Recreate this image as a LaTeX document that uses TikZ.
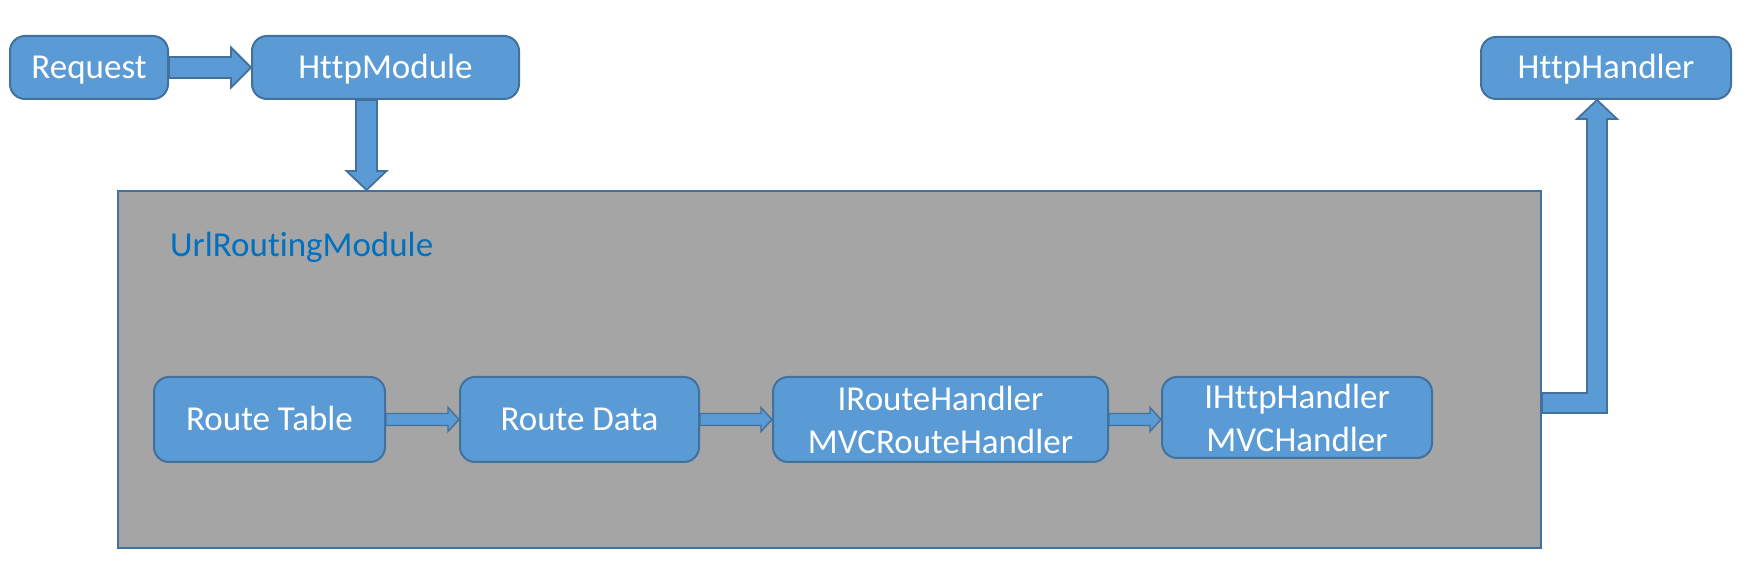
\documentclass[tikz,border=0pt]{standalone}
\usepackage{fontspec}
\setmainfont{Carlito}[Ligatures={NoCommon,NoRare,NoContextual}]
\usetikzlibrary{calc}
\definecolor{bluef}{HTML}{5B9BD5}
\definecolor{bord}{HTML}{41719C}
\definecolor{grayf}{HTML}{A5A5A5}
\definecolor{urlblue}{HTML}{0070C0}
\newcommand\bigfnt{\fontsize{35pt}{43pt}\selectfont}
\tikzset{
  bluebox/.style={draw=bord, fill=bluef, line width=2pt, rounded corners=15pt,
    text=white, font=\bigfnt, inner sep=0pt, align=center},
  onel/.style={text height=30pt, text depth=8pt},
  barrow/.style={draw=bord, fill=bluef, line width=1.8pt, line join=miter},
  sarrow/.style={draw=bord, fill=bluef, line width=1.4pt, line join=miter},
  graybox/.style={draw=bord, fill=grayf, line width=2pt, inner sep=0pt},
}
\begin{document}
\begin{tikzpicture}[x=1pt,y=1pt]
\useasboundingbox (0,0) rectangle (1747,585);
% top nodes
\node[bluebox,onel,minimum width=158pt,minimum height=63pt] (req) at (89,517.5) {Request};
\node[bluebox,onel,minimum width=267pt,minimum height=63pt] (hm) at (385.5,517.5) {Ht\kern0pt tpModule};
\node[bluebox,onel,minimum width=250pt,minimum height=62pt] (hh) at (1606,517) {Ht\kern0pt tpHandler};
% container
\node[graybox,minimum width=1423pt,minimum height=357pt] (gray) at (829.5,215.5) {};
\node[anchor=base west,inner sep=0pt,text=urlblue,font=\bigfnt] (url) at (170,328) {UrlRout\kern0pt ingModule};
% inner nodes
\node[bluebox,onel,minimum width=231pt,minimum height=85pt] (rt) at (269.5,165.5) {Route Table};
\node[bluebox,onel,minimum width=239pt,minimum height=85pt] (rd) at (579.5,165.5) {Route Data};
\node[bluebox,minimum width=335pt,minimum height=85pt] (ir) at (940.5,165.5) {IRouteHandler\\MVCRouteHandler};
\node[bluebox,minimum width=270pt,minimum height=81pt] (ih) at (1297,167.5) {IHt\kern0pt tpHandler\\MVCHandler};
% arrow Request -> HttpModule
\draw[barrow] let \p1=(req.east), \p2=(hm.west) in
  (\x1,\y1+10.5) -- (\x2-20,\y1+10.5) -- (\x2-20,\y1+20) -- (\x2,\y1)
  -- (\x2-20,\y1-20) -- (\x2-20,\y1-10.5) -- (\x1,\y1-10.5) -- cycle;
% arrow HttpModule -> container
\draw[barrow] let \p1=($(hm.south)+(-19,0)$), \p2=(gray.north) in
  (\x1-10.5,\y1) -- (\x1-10.5,\y2+19) -- (\x1-20,\y2+19) -- (\x1,\y2)
  -- (\x1+20,\y2+19) -- (\x1+10.5,\y2+19) -- (\x1+10.5,\y1) -- cycle;
% elbow arrow container -> HttpHandler
\draw[barrow] let \p1=($(gray.east)+(0,-33.5)$), \p2=($(hh.south)+(-9,0)$) in
  (\x1,\y1+10) -- (\x2-10,\y1+10) -- (\x2-10,\y2-19) -- (\x2-20,\y2-19) -- (\x2,\y2)
  -- (\x2+20,\y2-19) -- (\x2+10,\y2-19) -- (\x2+10,\y1-10) -- (\x1,\y1-10) -- cycle;
% inner arrows
\draw[sarrow] let \p1=(rt.east), \p2=(rd.west) in
  (\x1,\y1+6) -- (\x2-11,\y1+6) -- (\x2-11,\y1+12) -- (\x2,\y1)
  -- (\x2-11,\y1-12) -- (\x2-11,\y1-6) -- (\x1,\y1-6) -- cycle;
\draw[sarrow] let \p1=(rd.east), \p2=(ir.west) in
  (\x1,\y1+6) -- (\x2-11,\y1+6) -- (\x2-11,\y1+12) -- (\x2,\y1)
  -- (\x2-11,\y1-12) -- (\x2-11,\y1-6) -- (\x1,\y1-6) -- cycle;
\draw[sarrow] let \p1=(ir.east), \p2=(ih.west) in
  (\x1,\y1+6) -- (\x2-11,\y1+6) -- (\x2-11,\y1+12) -- (\x2,\y1)
  -- (\x2-11,\y1-12) -- (\x2-11,\y1-6) -- (\x1,\y1-6) -- cycle;
\end{tikzpicture}
\end{document}
